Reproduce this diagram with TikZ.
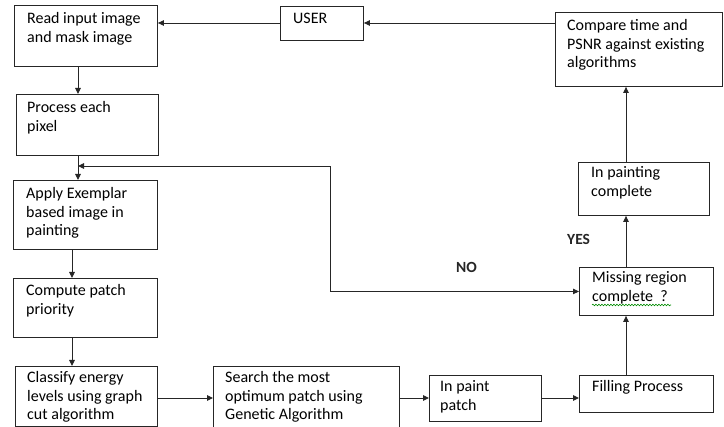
\documentclass[tikz,border=0pt]{standalone}
\usepackage{fontspec}
\setmainfont{Carlito}
\usetikzlibrary{arrows.meta,decorations.pathmorphing}
\newcommand{\boxtext}[1]{\begin{tabular}[t]{@{}l@{}}#1\end{tabular}}
\begin{document}
\begin{tikzpicture}[x=1pt,y=-1pt,
  fbox/.style={draw=black!85,line width=0.9pt,inner sep=0pt,anchor=north west},
  txt/.style={anchor=base west,inner sep=0pt,font=\fontsize{16}{18.3}\selectfont,text=black},
  lbl/.style={anchor=base west,inner sep=0pt,font=\fontsize{15.5}{17}\selectfont\bfseries,text=black!85},
  arr/.style={draw=black!85,line width=0.9pt,-{Triangle[length=6pt,width=5.5pt]}},
  darr/.style={draw=black!85,line width=0.9pt,{Triangle[length=6pt,width=5.5pt]}-{Triangle[length=6pt,width=5.5pt]}}]
\fill[white] (0,0) rectangle (724,427);
\useasboundingbox (0,0) rectangle (724,427);
% boxes
\node[fbox,minimum width=143pt,minimum height=61pt] (b1) at (14,5) {};
\node[fbox,minimum width=83pt,minimum height=34pt] (user) at (280,6) {};
\node[fbox,minimum width=167pt,minimum height=74pt] (cmp) at (555,12) {};
\node[fbox,minimum width=142pt,minimum height=61pt] (b2) at (16,94) {};
\node[fbox,minimum width=144pt,minimum height=69pt] (b3) at (13,180) {};
\node[fbox,minimum width=144pt,minimum height=59pt] (b4) at (13,278) {};
\node[fbox,minimum width=142pt,minimum height=60pt] (b5) at (15,366) {};
\node[fbox,minimum width=186pt,minimum height=62pt] (b6) at (213,366) {};
\node[fbox,minimum width=112pt,minimum height=46pt] (ip) at (429,375) {};
\node[fbox,minimum width=134pt,minimum height=37pt] (fill) at (579,375) {};
\node[fbox,minimum width=134pt,minimum height=48pt] (miss) at (579,267) {};
\node[fbox,minimum width=131pt,minimum height=53pt] (ipc) at (578,162) {};
% texts
\node[txt] (t1) at (27,24) {\boxtext{Read input image\\and mask image}};
\node[txt] (tu) at (293,24) {\boxtext{USER}};
\node[txt] (tc) at (567,31) {\boxtext{Compare time and\\PSNR against existing\\algorithms}};
\node[txt] (t2) at (27,113) {\boxtext{Process each\\pixel}};
\node[txt] (t3) at (26,199) {\boxtext{Apply Exemplar\\based image in\\painting}};
\node[txt] (t4) at (26,296) {\boxtext{Compute patch\\priority}};
\node[txt] (t5) at (27,383) {\boxtext{Classify energy\\levels using graph\\cut algorithm}};
\node[txt] (t6) at (225,383) {\boxtext{Search the most\\optimum patch using\\Genetic Algorithm}};
\node[txt] (ti) at (440,392) {\boxtext{In paint\\patch}};
\node[txt] (tf) at (592,392) {\boxtext{Filling Process}};
\node[txt] (tm) at (592,283) {\boxtext{Missing region\\complete\ \ ?}};
\node[txt] (tp) at (591,178) {\boxtext{In painting\\complete}};
\node[lbl] (yes) at (567,245) {YES};
\node[lbl] (no) at (456,273) {NO};
% spell-check underline
\coordinate (u1) at (592,305);
\coordinate (u2) at (671,305);
\draw[green!55!black,line width=0.6pt,decorate,decoration={snake,segment length=3pt,amplitude=0.8pt}] (u1) -- (u2);
% helper coordinates
\coordinate (vx) at (78,0);
\coordinate (vx3) at (72,0);
\coordinate (vx2) at (626,0);
\coordinate (hy) at (0,398);
\coordinate (hu) at (0,23);
\coordinate (lp) at (330,166);
% connectors
\draw[arr] (hu -| user.west) -- (hu -| b1.east);
\draw[arr] (hu -| cmp.west) -- (hu -| user.east);
\draw[arr] (vx |- b1.south) -- (vx |- b2.north);
\draw[arr] (vx |- b2.south) -- (vx |- b3.north);
\draw[arr] (vx3 |- b3.south) -- (vx3 |- b4.north);
\draw[arr] (vx3 |- b4.south) -- (vx3 |- b5.north);
\draw[arr] (hy -| b5.east) -- (hy -| b6.west);
\draw[arr] (hy -| b6.east) -- (hy -| ip.west);
\draw[arr] (hy -| ip.east) -- (hy -| fill.west);
\draw[arr] (vx2 |- fill.north) -- (vx2 |- miss.south);
\draw[arr] (vx2 |- miss.north) -- (vx2 |- ipc.south);
\draw[arr] (vx2 |- ipc.north) -- (vx2 |- cmp.south);
\draw[darr] (vx |- lp) -- (lp) -- (lp |- miss.west) -- (miss.west);
\end{tikzpicture}
\end{document}
